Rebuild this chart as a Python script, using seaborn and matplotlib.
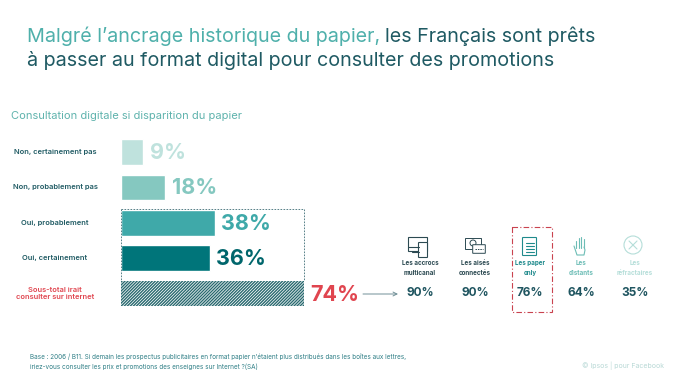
import matplotlib
matplotlib.use('Agg')
import matplotlib.pyplot as plt
from matplotlib.patches import Rectangle, Circle, FancyBboxPatch
import pandas as pd
import seaborn as sns

answers = ['Non, certainement pas', 'Non, probablement pas', 'Oui, probablement', 'Oui, certainement',
           'Sous-total irait\nconsulter sur internet']
shares = [9, 18, 38, 36, 74]
bar_colors = ['#bfe2dd', '#85c8c0', '#3fa9a9', '#00757a', '#ffffff']
text_colors = ['#bfe2dd', '#85c8c0', '#3fa9a9', '#00666c', '#e0454f']
answer_colors = ['#1f5a63', '#1f5a63', '#1f5a63', '#1f5a63', '#e0454f']

segments = ['Les accrocs\nmulticanal', 'Les aisés\nconnectés', 'Les paper\nonly', 'Les\ndistants', 'Les\nréfractaires']
segment_shares = [90, 90, 76, 64, 35]
segment_colors = ['#2c4a52', '#2c4a52', '#1f8a8c', '#6dbdb6', '#b5ded9']

DARK = '#1f5a63'
TEAL = '#4fb0ab'

sns.set_theme(style='white')
plt.rcParams['font.family'] = ['Inter', 'DejaVu Sans']

W, H = 680, 380
fig = plt.figure(figsize=(6.8, 3.8), dpi=100, facecolor='white')

# bars, 2.47 px per percent
ax = fig.add_axes([121 / W, 1 - 311.3 / H, 247 / W, 177 / H])
df = pd.DataFrame({'answer': answers, 'share': shares})
sns.barplot(data=df, x='share', y='answer', hue='answer', palette=bar_colors, legend=False,
            width=0.72, saturation=1, ax=ax)
ax.set_xlim(0, 100)
ax.set_ylim(4.5, -0.5)
ax.set_xlabel('')
ax.set_ylabel('')
ax.set_xticks([])
ax.set_yticks([])
sns.despine(ax=ax, left=True, bottom=True)
ax.patch.set_alpha(0)

# hatched subtotal
plt.rcParams['hatch.linewidth'] = 0.5
total = ax.patches[4]
total.set_hatch('/' * 11)
total.set_edgecolor('#2a6a70')
total.set_linewidth(0)

# dashed box around the two "oui" bars
ax.plot([0, shares[4], shares[4]], [1.62, 1.62, 3.64], color='#3d6d75', lw=0.6, ls=(0, (2, 1.6)))
ax.plot([0, 0], [1.62, 3.64], color='#3d6d75', lw=0.6, ls=(0, (2, 1.6)))

for i, v in enumerate(shares):
    ax.text(v + 2.6, i + 0.03, f'{v}%', color=text_colors[i], fontsize=15.5, fontweight='bold',
            va='center', ha='left')
    ax.text(-26.7, i, answers[i], color=answer_colors[i], fontsize=5.4, fontweight='semibold',
            va='center', ha='center', linespacing=1.35, clip_on=False)

# overlay in pixel coordinates for title, notes and icons
ov = fig.add_axes([0, 0, 1, 1])
ov.set_xlim(0, W)
ov.set_ylim(H, 0)
ov.axis('off')
ov.patch.set_alpha(0)

t1 = ov.text(27, 42, 'Malgré l’ancrage historique du papier,', color=TEAL, fontsize=14.2, va='baseline')
fig.canvas.draw()
bb = t1.get_window_extent()
ov.text(bb.x1 + 5, 42, 'les Français sont prêts', color=DARK, fontsize=14.2, va='baseline')
ov.text(27, 66, 'à passer au format digital pour consulter des promotions', color=DARK, fontsize=14.2, va='baseline')
ov.text(11, 119, 'Consultation digitale si disparition du papier', color='#5fb3ad', fontsize=8, va='baseline')

ov.text(30, 359, 'Base : 2006 / B11. Si demain les prospectus publicitaires en format papier n’étaient plus distribués dans les boîtes aux lettres,',
        color='#2f7f86', fontsize=4.6, va='baseline')
ov.text(30, 369, 'iriez-vous consulter les prix et promotions des enseignes sur Internet ?(SA)',
        color='#2f7f86', fontsize=4.6, va='baseline')
ov.text(664, 368, '© Ipsos | pour Facebook', color='#b9d9d6', fontsize=5, va='baseline', ha='right')

# arrow to the segments
ov.annotate('', xy=(398, 294), xytext=(363, 294),
            arrowprops=dict(arrowstyle='->', color='#6f8f96', lw=0.7, mutation_scale=7, shrinkA=0, shrinkB=0))

# segment columns
centers = [420, 475, 530, 581, 635]
for cx, name, val, col in zip(centers, segments, segment_shares, segment_colors):
    ov.text(cx, 268, name, color=col, fontsize=4.5, fontweight='bold', ha='center', va='center', linespacing=1.7)
    ov.text(cx, 293.5, f'{val}%', color='#1f5560', fontsize=8.5, fontweight='bold', ha='center', va='center')

# red box around "paper only"
ov.add_patch(Rectangle((512, 227), 40, 85, fill=False, ec='#c9434f', lw=0.8, ls=(0, (5, 2, 1, 2))))

# icons
c = '#2c4a52'
ov.add_patch(Rectangle((408, 237), 19, 14, fill=False, ec=c, lw=0.8))
ov.add_patch(FancyBboxPatch((419, 243), 8, 14, boxstyle='round,pad=0.5', fc='white', ec=c, lw=0.8))
ov.plot([408, 419], [247, 247], color=c, lw=0.8)
ov.plot([412, 419], [252, 252], color=c, lw=0.8)

ov.add_patch(Rectangle((465, 238), 16, 11, fill=False, ec=c, lw=0.7))
ov.add_patch(Circle((473, 243), 3, fill=False, ec=c, lw=0.7))
ov.add_patch(FancyBboxPatch((473, 245), 12, 8, boxstyle='round,pad=0.3', fc='white', ec=c, lw=0.7))
ov.plot([475, 483], [249, 249], color=c, lw=0.7, ls=(0, (1.5, 1)))

c = '#1f8a8c'
ov.add_patch(FancyBboxPatch((523, 238), 13, 17, boxstyle='round,pad=0.5', fill=False, ec=c, lw=0.8))
for yy in (243, 246, 249, 252):
    ov.plot([525.5, 533.5], [yy, yy], color=c, lw=0.8)

c = '#6dbdb6'
for xx, top in zip((576, 578.5, 581, 583.5), (241, 238, 237, 239)):
    ov.plot([xx, xx], [top, 248], color=c, lw=0.8)
ov.plot([574, 576, 577, 584, 585, 584], [246, 252, 255, 255, 250, 247], color=c, lw=0.8)

c = '#b5ded9'
ov.add_patch(Circle((633, 245), 9, fill=False, ec=c, lw=0.8))
ov.plot([629, 637], [241, 249], color=c, lw=0.8)
ov.plot([629, 637], [249, 241], color=c, lw=0.8)

fig.savefig('out.png', dpi=100, facecolor='white')
